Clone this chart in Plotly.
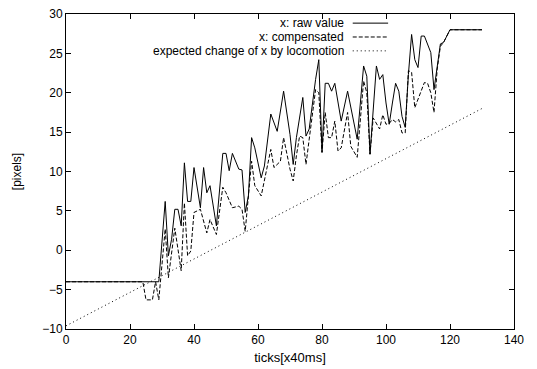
import plotly.graph_objects as go

# ---- data ----
raw_t = [0, 29, 31, 32, 33, 34, 35, 36, 37, 38, 39, 40, 42, 43, 44, 45, 47, 49, 50, 51, 52,
         54, 55, 56, 57, 58, 59, 61, 62, 64, 66, 68, 70, 71, 72, 74, 75, 76, 78, 79, 80,
         81, 82, 83, 84, 86, 88, 91, 93, 94, 95, 97, 98, 99, 100, 101, 102, 103, 104, 105,
         106, 107, 108, 109, 110, 111, 112, 113, 114, 115, 116, 117, 118, 120, 130]
raw_v = [-4, -4, 6.2, -0.7, 1.4, 5.2, 5.2, 3.1, 11.1, 6.2, 6.2, 10.5, 5.4, 10.5, 7.3, 8.2, 3.1,
         12.3, 12.3, 10.1, 12.3, 10.3, 10.2, 4.8, 6.9, 14.3, 13, 9.2, 10.7, 17.3, 15.1, 20.2,
         14.7, 10.9, 14.3, 19.4, 14.5, 15.4, 21.7, 24.2, 12.5, 21.2, 21.2, 20.2, 21.2, 16.4,
         20.2, 14.1, 23.4, 22.1, 12.2, 23.4, 21.7, 22.3, 18.7, 16, 18.7, 21.2, 20.2, 17, 15.6,
         22.3, 27.4, 24.2, 23.2, 27.2, 27.2, 26.2, 25.1, 20.4, 23.4, 26.2, 26.4, 28, 28]

comp_t = [0, 24, 25, 27, 28, 29, 31, 32, 34, 36, 37, 38, 39, 40, 41, 42, 44, 45, 47, 49, 50,
          52, 54, 55, 56, 58, 59, 61, 64, 65, 67, 68, 70, 71, 72, 73, 74, 75, 76, 78, 79, 80,
          81, 82, 83, 84, 85, 86, 88, 89, 91, 93, 94, 95, 96, 98, 99, 100, 101, 102, 103, 104,
          105, 106, 107, 108, 109, 110, 111, 112, 113, 114, 115, 116, 117, 118, 120, 130]
comp_v = [-4, -4, -6.3, -6.3, -4, -6.3, 2.7, -3.5, 2.8, -2.6, 6.0, -0.7, -0.1, 4.8, 5.0, 5.2,
          2.2, 3.9, 2.0, 8.0, 7.3, 5.4, 5.6, 5.2, 2.4, 11.3, 8.2, 6.9, 12.8, 10.5, 11.3, 14.3,
          10.3, 8.8, 12.0, 14.5, 14.3, 10.9, 14.1, 20.4, 20.0, 12.4, 17.5, 14.3, 14.3, 16.4,
          12.6, 13.0, 17.5, 13.2, 11.8, 21.5, 20.0, 12.2, 16.8, 15.4, 17.2, 16.0, 16.1, 16.6,
          16.3, 16.6, 14.9, 14.9, 22.8, 22.6, 18.1, 19.2, 20.4, 21.3, 21.2, 20.0, 17.5, 23.0,
          25.9, 26.4, 28, 28]

exp_t = [0, 130]
exp_v = [-9.6, 18.0]

x_ticks = [0, 20, 40, 60, 80, 100, 120, 140]
y_ticks = [-10, -5, 0, 5, 10, 15, 20, 25, 30]

names = ["x: raw value", "x: compensated", "expected change of x by locomotion"]
dashes = ["solid", "4px,2px", "1px,3px"]

FONT = "Liberation Sans, Arial, sans-serif"

fig = go.Figure()
fig.add_trace(go.Scatter(x=raw_t, y=raw_v, mode="lines", name=names[0],
                         line=dict(color="black", width=1, dash=dashes[0])))
fig.add_trace(go.Scatter(x=comp_t, y=comp_v, mode="lines", name=names[1],
                         line=dict(color="black", width=1, dash=dashes[1])))
fig.add_trace(go.Scatter(x=exp_t, y=exp_v, mode="lines", name=names[2],
                         line=dict(color="black", width=1, dash=dashes[2])))

# gnuplot-style key: right-aligned text, sample line to the right
rows = [0.971, 0.927, 0.883]
for nm, ds, yy in zip(names, dashes, rows):
    fig.add_annotation(x=0.623, y=yy, xref="paper", yref="paper", text=nm,
                       showarrow=False, xanchor="right", yanchor="middle",
                       borderpad=0,
                       font=dict(family=FONT, size=12, color="black"))
    fig.add_shape(type="line", xref="paper", yref="paper", x0=0.640, x1=0.719,
                  y0=yy, y1=yy, line=dict(color="black", width=1, dash=ds))

axis_common = dict(showgrid=False, zeroline=False, showline=True, linecolor="black",
                   linewidth=1, mirror="allticks", ticks="inside", ticklen=5,
                   tickcolor="black", tickwidth=1, automargin=False,
                   tickfont=dict(family=FONT, size=12, color="black"))

fig.update_layout(
    width=537, height=369,
    margin=dict(l=66, r=23, t=14, b=40),
    paper_bgcolor="white", plot_bgcolor="white",
    showlegend=False,
    xaxis=dict(range=[0, 140], tickvals=x_ticks,
               title=dict(text="ticks[x40ms]", standoff=6,
                          font=dict(family=FONT, size=13, color="black")),
               **axis_common),
    yaxis=dict(range=[-10, 30], tickvals=y_ticks,
               title=dict(text="[pixels]", standoff=18,
                          font=dict(family=FONT, size=12, color="black")),
               **axis_common),
)

fig.write_html("out.html")
